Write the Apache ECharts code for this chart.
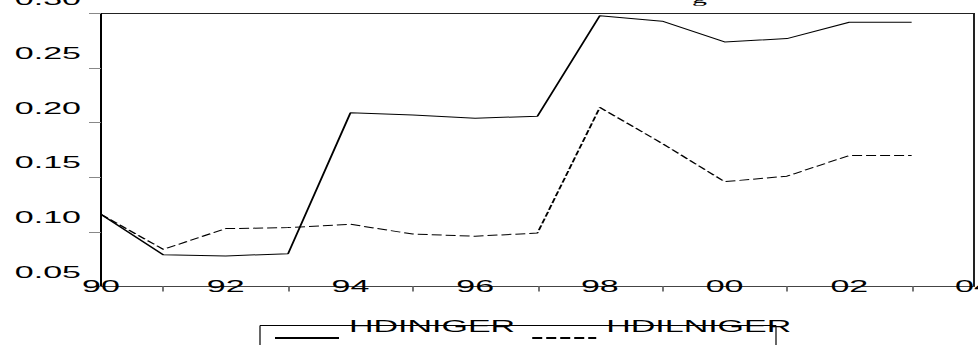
<!DOCTYPE html>
<html>
<head>
<meta charset="utf-8">
<script src="https://cdn.jsdelivr.net/npm/echarts@6/dist/echarts.min.js"></script>
<style>
  html, body { margin: 0; padding: 0; background: #fff; overflow: hidden; width: 978px; height: 345px; }
  #chart { width: 489px; height: 345px; transform: scaleX(2); transform-origin: 0 0; }
</style>
</head>
<body>
<div id="chart"></div>
<script>
// Categories (years, shown as two digits)
const years = ['90','91','92','93','94','95','96','97','98','99','00','01','02','03','04'];
// Series values (1990-2003)
const hdiniger  = [0.116, 0.079, 0.078, 0.080, 0.209, 0.207, 0.204, 0.206, 0.298, 0.293, 0.274, 0.277, 0.292, 0.292];
const hdilniger = [0.116, 0.084, 0.103, 0.104, 0.107, 0.098, 0.096, 0.099, 0.214, 0.181, 0.146, 0.151, 0.170, 0.170];
// Y tick labels
const yTickLabels = ['0.05', '0.10', '0.15', '0.20', '0.25', '0.30'];
const seriesNames = ['HDINIGER', 'HDILNIGER'];

const yMin = parseFloat(yTickLabels[0]);
const yMax = parseFloat(yTickLabels[yTickLabels.length - 1]);
const yStep = parseFloat(yTickLabels[1]) - yMin;

const font = 'Liberation Sans';
const chart = echarts.init(document.getElementById('chart'), null, { renderer: 'svg' });

chart.setOption({
  animation: false,
  backgroundColor: '#fff',
  grid: {
    left: 50.5, right: 2, top: 13.5, bottom: 58.5,
    show: true, borderColor: '#222', borderWidth: 1,
    outerBoundsMode: 'none', containLabel: false
  },
  legend: {
    data: seriesNames,
    left: 136.5,
    top: 314,
    padding: 0,
    orient: 'horizontal',
    itemWidth: 32,
    itemHeight: 2,
    itemGap: 7.5,
    selectedMode: false,
    itemStyle: { opacity: 0 },
    formatter: function (name) { return name + '\n '; },
    textStyle: { fontFamily: font, fontSize: 17, lineHeight: 24, color: '#000' }
  },
  xAxis: {
    type: 'category',
    data: years,
    boundaryGap: false,
    axisLine: { lineStyle: { color: '#444', width: 1 } },
    axisTick: {
      inside: false, length: 5,
      interval: function (idx) { return idx % 2 === 1; },
      lineStyle: { color: '#777' }
    },
    axisLabel: {
      interval: 1, margin: 0, verticalAlign: 'middle',
      fontFamily: font, fontSize: 17, color: '#000',
      showMinLabel: true, showMaxLabel: true
    },
    splitLine: { show: false }
  },
  yAxis: {
    type: 'value',
    min: yMin, max: yMax, interval: yStep,
    axisLine: { show: true, lineStyle: { color: '#000', width: 1 } },
    axisTick: { show: true, inside: false, length: 6, lineStyle: { color: '#888' } },
    axisLabel: {
      margin: 10, verticalAlign: 'bottom', padding: [0, 0, 6, 0],
      fontFamily: font, fontSize: 17, color: '#000',
      formatter: function (v) { return v.toFixed(2); },
      showMinLabel: true, showMaxLabel: true
    },
    splitLine: { show: false }
  },
  series: [
    {
      name: seriesNames[0], type: 'line', data: hdiniger,
      symbol: 'none', silent: true,
      lineStyle: { color: '#000', width: 1, type: 'solid' },
      itemStyle: { color: '#000' }
    },
    {
      name: seriesNames[1], type: 'line', data: hdilniger,
      symbol: 'none', silent: true,
      lineStyle: { color: '#000', width: 1, type: [5, 2] },
      itemStyle: { color: '#000' }
    }
  ],
  graphic: [
    { type: 'line', shape: { x1: 130, y1: 325.5, x2: 388, y2: 325.5 }, style: { stroke: '#000', lineWidth: 1 } },
    { type: 'line', shape: { x1: 130, y1: 325.5, x2: 130, y2: 350 }, style: { stroke: '#000', lineWidth: 0.6 } },
    { type: 'line', shape: { x1: 388, y1: 325.5, x2: 388, y2: 350 }, style: { stroke: '#000', lineWidth: 0.6 } },
    { type: 'text', x: 346, y: 5, style: { text: 'g', fontFamily: 'Liberation Serif', fontSize: 15, fill: '#000', verticalAlign: 'bottom' } }
  ]
});
</script>
</body>
</html>
